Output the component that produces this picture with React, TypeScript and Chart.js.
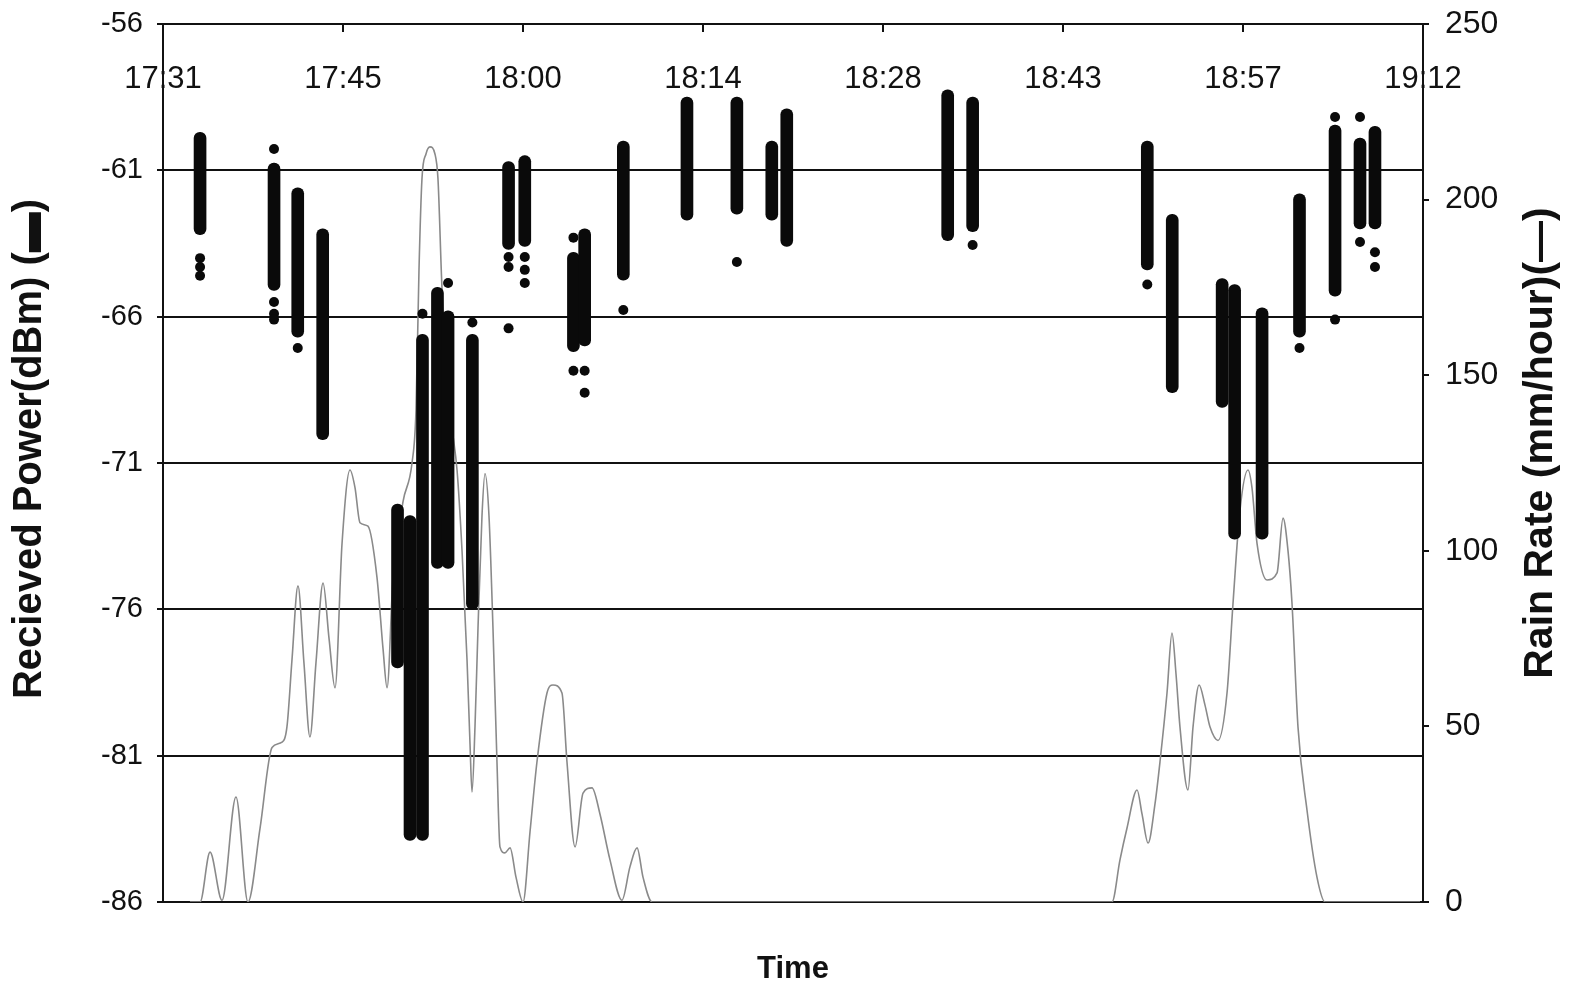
import React, { useEffect, useRef } from "react";
import { Chart, registerables } from "chart.js";

Chart.register(...registerables);

// minutes after 17:31 (axis spans 17:31 .. 19:12)
const X_MAX = 101;
const timeTickLabels = ["17:31", "17:45", "18:00", "18:14", "18:28", "18:43", "18:57", "19:12"];
const powerMin = -86;
const powerMax = -56;
const powerStep = 5;
const rainMin = 0;
const rainMax = 250;
const rainStep = 50;

// Received power: dense vertical runs of samples (minute, highest dBm, lowest dBm)
const powerColumnMinutes = [
  2.97, 8.9, 10.8, 12.8, 18.8, 19.8, 20.8, 22.0, 22.85, 24.8,
  27.7, 29.0, 32.9, 33.8, 36.9, 42.0, 46.0, 48.8, 50.0, 62.9,
  64.9, 78.9, 80.9, 84.9, 85.9, 88.1, 91.1, 93.95, 95.95, 97.15,
];
const powerColumnHigh = [
  -59.7, -60.75, -61.6, -63.0, -72.4, -72.8, -66.6, -65.0, -65.8, -66.6,
  -60.7, -60.5, -63.8, -63.0, -60.0, -58.5, -58.5, -60.0, -58.9, -58.25,
  -58.5, -60.0, -62.5, -64.7, -64.9, -65.7, -61.8, -59.45, -59.9, -59.5,
];
const powerColumnLow = [
  -63.2, -65.1, -66.7, -70.2, -78.0, -83.9, -83.9, -74.6, -74.6, -76.0,
  -63.7, -63.6, -67.2, -67.0, -64.75, -62.7, -62.5, -62.7, -63.6, -63.4,
  -63.1, -64.4, -68.6, -69.1, -73.6, -73.6, -66.7, -65.3, -63.0, -63.0,
];

// Received power: isolated samples
const powerPointMinutes = [
  2.97, 2.97, 2.97, 8.9, 8.9, 8.9, 8.9, 10.8, 20.8, 22.85,
  24.8, 27.7, 27.7, 27.7, 29.0, 29.0, 29.0, 32.9, 32.9, 33.8,
  33.8, 36.9, 46.0, 64.9, 78.9, 91.1, 93.95, 93.95, 95.95, 95.95,
  97.15, 97.15,
];
const powerPointValues = [
  -64.0, -64.3, -64.6, -60.27, -65.5, -65.9, -66.1, -67.07, -65.9, -64.85,
  -66.2, -63.96, -64.3, -66.4, -63.96, -64.4, -64.85, -63.3, -67.85, -67.85,
  -68.6, -65.77, -64.13, -63.55, -64.9, -67.07, -59.18, -66.1, -59.18, -63.45,
  -63.8, -64.3,
];

// Rain rate (mm/hour)
const rainMinutes = [
  2.16, 2.97, 3.77, 4.73, 5.85, 6.81, 7.78, 8.74, 9.54, 9.94,
  10.34, 10.82, 11.3, 11.78, 12.26, 12.83, 13.31, 13.79, 14.35, 14.99,
  15.39, 15.79, 16.43, 17.15, 17.64, 17.96, 18.44, 19.24, 19.96, 20.28,
  20.52, 20.76, 21.08, 21.4, 21.8, 22.04, 22.36, 22.77, 23.17, 23.57,
  23.97, 24.37, 24.61, 24.77, 25.01, 25.25, 25.57, 25.81, 26.13, 26.45,
  26.77, 27.01, 27.41, 27.82, 28.3, 28.86, 29.42, 29.98, 30.78, 31.26,
  31.98, 32.38, 33.03, 33.67, 34.39, 35.03, 35.83, 36.79, 37.43, 38.0,
  38.48, 39.2, 75.67, 76.07, 76.71, 77.27, 78.08, 78.48, 78.96, 79.52,
  79.92, 80.48, 80.88, 81.2, 81.52, 82.16, 82.57, 83.05, 83.53, 83.93,
  84.57, 85.29, 85.77, 86.33, 86.97, 87.29, 87.7, 88.5, 89.3, 89.78,
  90.18, 90.5, 90.98, 91.7, 92.5, 93.15, 100.76,
];
const rainValues = [
  0, 0, 14.2, 0.5, 29.9, 0, 21, 44, 45.5, 50,
  69, 90, 68, 47, 68, 90.8, 75, 61, 102, 123,
  118, 108, 107, 92.5, 72, 61, 92.5, 114, 125, 140,
  180, 206, 213, 215, 213, 206, 175, 150, 135, 123,
  100, 69, 45, 31.3, 50, 78, 110, 122, 110, 78,
  40, 15.7, 14, 15.4, 7, 0, 20, 40, 59.5, 61.8,
  59.5, 40, 15.7, 31, 32.5, 25, 12, 0.5, 10, 15.4,
  7, 0, 0, 0, 12, 21, 31.9, 25, 16.8, 28,
  40, 59.5, 76.6, 65, 49.8, 31.9, 50, 61.8, 56, 49.8,
  46, 59.5, 85, 111.6, 123, 118, 102, 91.7, 93.7, 109.3,
  100, 85, 49.8, 26.2, 7.1, 0, 0,
];

const leftTitle = "Recieved Power(dBm) (\u25AC)";
const rightTitle = "Rain Rate (mm/hour)(\u2014)";
const bottomTitle = "Time";

const FONT = "'Liberation Sans', Arial, sans-serif";
const INK = "#111111";

export default function App() {
  const canvasRef = useRef<HTMLCanvasElement | null>(null);

  useEffect(() => {
    const canvas = canvasRef.current;
    if (!canvas) return;

    const drawRotated = (ctx: CanvasRenderingContext2D, text: string, x: number, y: number, size: number) => {
      ctx.save();
      ctx.translate(x, y);
      ctx.rotate(-Math.PI / 2);
      ctx.font = `bold ${size}px ${FONT}`;
      ctx.fillStyle = INK;
      ctx.textAlign = "center";
      ctx.textBaseline = "middle";
      ctx.fillText(text, 0, 0);
      ctx.restore();
    };

    const axisTitlesPlugin = {
      id: "axisTitles",
      afterDraw(chart: any) {
        const ctx = chart.ctx;
        drawRotated(ctx, leftTitle, 30, 449, 40);
        drawRotated(ctx, rightTitle, 1541, 443, 41);
      },
    };

    const noVerticalPadding = (scale: any, width: number) => {
      scale.width = width;
      scale.paddingTop = 0;
      scale.paddingBottom = 0;
    };

    const chart = new Chart(canvas, {
      type: "bar",
      data: {
        datasets: [
          {
            type: "line",
            label: "Rain rate",
            data: rainMinutes.map((m, i) => ({ x: m, y: rainValues[i] })),
            yAxisID: "y1",
            xAxisID: "x",
            borderColor: "#8a8a8a",
            borderWidth: 1.6,
            pointRadius: 0,
            cubicInterpolationMode: "monotone",
            fill: false,
            order: 3,
          } as any,
          {
            type: "bar",
            label: "Received power",
            data: powerColumnMinutes.map((m, i) => ({ x: m, y: [powerColumnLow[i], powerColumnHigh[i]] })),
            yAxisID: "y",
            xAxisID: "x",
            backgroundColor: "#0a0a0a",
            barThickness: 12,
            borderRadius: 6,
            borderSkipped: false,
            order: 2,
          } as any,
          {
            type: "line",
            label: "Received power samples",
            data: powerPointMinutes.map((m, i) => ({ x: m, y: powerPointValues[i] })),
            yAxisID: "y",
            xAxisID: "x",
            showLine: false,
            pointRadius: 5,
            pointStyle: "circle",
            pointBackgroundColor: "#0a0a0a",
            pointBorderWidth: 0,
            order: 1,
          } as any,
        ],
      },
      options: {
        responsive: false,
        animation: false,
        devicePixelRatio: 1,
        events: [],
        layout: { padding: 0 },
        plugins: {
          legend: { display: false },
          tooltip: { enabled: false },
          title: { display: false },
        },
        scales: {
          x: {
            type: "linear",
            position: "top",
            min: 0,
            max: X_MAX,
            offset: false,
            afterBuildTicks: (scale: any) => {
              scale.ticks = timeTickLabels.map((_, i) => ({ value: (i * X_MAX) / (timeTickLabels.length - 1) }));
            },
            afterFit: (scale: any) => {
              scale.height = 24;
            },
            ticks: {
              mirror: true,
              padding: 37,
              autoSkip: false,
              maxRotation: 0,
              color: INK,
              font: { family: FONT, size: 31 },
              callback: (_v: any, i: number) => timeTickLabels[i] ?? "",
            },
            grid: {
              offset: false,
              drawOnChartArea: false,
              drawTicks: true,
              tickLength: -8,
              color: INK,
              lineWidth: 2,
            },
            border: { display: true, color: INK, width: 2 },
          },
          x2: {
            type: "linear",
            position: "bottom",
            min: 0,
            max: X_MAX,
            afterFit: (scale: any) => {
              scale.height = 88;
            },
            ticks: { display: false },
            grid: { display: false, drawTicks: false },
            border: { display: false },
            title: {
              display: true,
              text: bottomTitle,
              color: INK,
              font: { family: FONT, size: 31, weight: "bold" },
              padding: { top: 0, bottom: 2 },
            },
          },
          y: {
            type: "linear",
            position: "left",
            min: powerMin,
            max: powerMax,
            afterFit: (scale: any) => noVerticalPadding(scale, 163),
            ticks: {
              stepSize: powerStep,
              padding: 14,
              color: INK,
              font: { family: FONT, size: 29 },
            },
            grid: { color: INK, lineWidth: 2, tickLength: 6 },
            border: { display: true, color: INK, width: 2 },
          },
          y1: {
            type: "linear",
            position: "right",
            min: rainMin,
            max: rainMax,
            afterFit: (scale: any) => noVerticalPadding(scale, 147),
            ticks: {
              stepSize: rainStep,
              padding: 16,
              color: INK,
              font: { family: FONT, size: 32 },
            },
            grid: { drawOnChartArea: false, color: INK, lineWidth: 2, tickLength: 6 },
            border: { display: true, color: INK, width: 2 },
          },
        },
      } as any,
      plugins: [axisTitlesPlugin],
    });

    return () => chart.destroy();
  }, []);

  return (
    <div style={{ position: "fixed", left: 0, top: 0, width: 1570, height: 990, background: "#ffffff" }}>
      <canvas ref={canvasRef} width={1570} height={990} style={{ display: "block", width: 1570, height: 990 }} />
    </div>
  );
}
